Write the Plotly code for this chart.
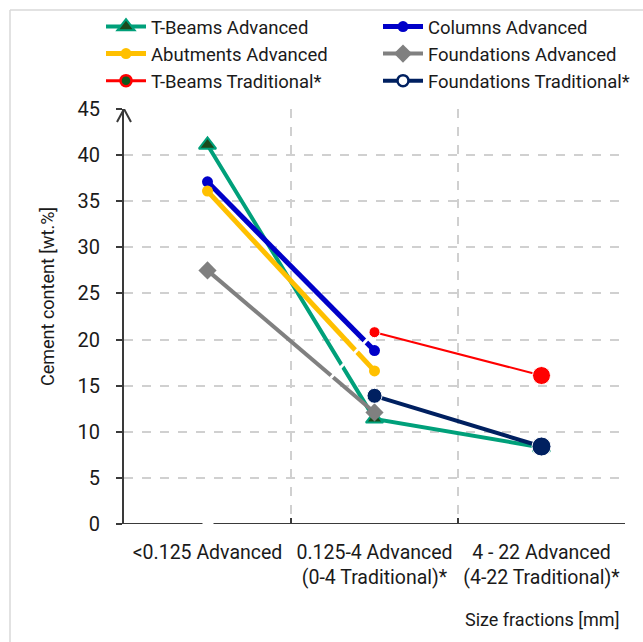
import plotly.graph_objects as go

# Size-fraction categories on the x axis
categories = [
    "<0.125 Advanced",
    "0.125-4 Advanced<br>(0-4 Traditional)*",
    "4 - 22 Advanced<br>(4-22 Traditional)*",
]

# Cement content [wt.%] per series (None = no value for that fraction)
tbeams_adv = [41.1, 11.4, 8.3]
columns_adv = [37.1, 18.8, None]
abutments_adv = [36.1, 16.6, None]
foundations_adv = [27.5, 12.1, None]
tbeams_trad = [None, 20.8, 16.1]
foundations_trad = [None, 13.9, 8.4]

y_ticks = [0, 5, 10, 15, 20, 25, 30, 35, 40, 45]

FONT = "Roboto"
TXT = "#1a1a1a"
AXIS = "#3a3a3a"
GRID = "#d0d0d0"


def px_x(p):
    """Figure pixel column -> paper x."""
    return (p - 124) / 501


def px_y(p):
    """Figure pixel row -> paper y."""
    return (524 - p) / 415


def present(values):
    """Keep only the fractions that have a measured value."""
    pairs = [(c, v) for c, v in zip(categories, values) if v is not None]
    return [c for c, _ in pairs], [v for _, v in pairs]


fig = go.Figure()

# Advanced series
x, y = present(tbeams_adv)
fig.add_trace(go.Scatter(
    x=x, y=y, name="T-Beams Advanced", mode="lines+markers",
    line=dict(color="#00A07A", width=4),
    marker=dict(symbol="triangle-up", size=15, color="#1C4A1C", opacity=1,
                line=dict(color="#00A07A", width=2)),
    legend="legend", legendgroup="a",
))
x, y = present(columns_adv)
fig.add_trace(go.Scatter(
    x=x, y=y, name="Columns Advanced", mode="lines+markers",
    line=dict(color="#0000C8", width=5),
    marker=dict(symbol="circle", size=11, color="#0000C8", opacity=1),
    legend="legend2", legendgroup="b",
))
x, y = present(abutments_adv)
fig.add_trace(go.Scatter(
    x=x, y=y, name="Abutments Advanced", mode="lines+markers",
    line=dict(color="#FFC000", width=5),
    marker=dict(symbol="circle", size=11, color="#FFC000", opacity=1),
    legend="legend", legendgroup="c",
))
x, y = present(foundations_adv)
fig.add_trace(go.Scatter(
    x=x, y=y, name="Foundations Advanced", mode="lines+markers",
    line=dict(color="#808080", width=4),
    marker=dict(symbol="diamond", size=14, color="#808080", opacity=1),
    legend="legend2", legendgroup="d",
))

# Traditional series (plotted points; legend entries styled separately)
x, y = present(tbeams_trad)
fig.add_trace(go.Scatter(
    x=x, y=y, name="T-Beams Traditional*", mode="lines+markers",
    line=dict(color="#FF0000", width=2),
    marker=dict(symbol="circle", size=[11, 18], color="#FF0000", opacity=1),
    showlegend=False, legendgroup="e",
))
x, y = present(foundations_trad)
fig.add_trace(go.Scatter(
    x=x, y=y, name="Foundations Traditional*", mode="lines+markers",
    line=dict(color="#002060", width=4),
    marker=dict(symbol="circle", size=[15, 19], color="#002060", opacity=1),
    showlegend=False, legendgroup="f",
))
fig.add_trace(go.Scatter(
    x=[None], y=[None], name="T-Beams Traditional*", mode="lines+markers",
    line=dict(color="#FF0000", width=3),
    marker=dict(symbol="circle", size=11, color="#0F5A1E",
                line=dict(color="#FF0000", width=2.5)),
    legend="legend", legendgroup="e",
))
fig.add_trace(go.Scatter(
    x=[None], y=[None], name="Foundations Traditional*", mode="lines+markers",
    line=dict(color="#002060", width=4),
    marker=dict(symbol="circle", size=11, color="white",
                line=dict(color="#002060", width=2.5)),
    legend="legend2", legendgroup="f",
))

shapes = [
    # white break crossing the converging lines
    dict(type="line", xref="x", yref="y", x0=0.737, y0=15.83, x1=0.972, y1=20.3,
         line=dict(color="white", width=3), layer="above"),
    # x axis line with a small break under the first category
    dict(type="line", xref="x", yref="y", x0=-0.5, y0=0, x1=-0.03, y1=0,
         line=dict(color=AXIS, width=2), layer="above"),
    dict(type="line", xref="x", yref="y", x0=0.036, y0=0, x1=2.5, y1=0,
         line=dict(color=AXIS, width=2), layer="above"),
    # open arrowhead on top of the y axis
    dict(type="path", xref="paper", yref="y", xsizemode="pixel", ysizemode="pixel",
         xanchor=0, yanchor=45, path="M -7,-13 L 0,0 L 7,-13",
         line=dict(color=AXIS, width=2), layer="above"),
    # chart frame edges
    dict(type="line", xref="paper", yref="paper",
         x0=px_x(10), x1=px_x(10), y0=px_y(10), y1=px_y(700),
         line=dict(color="#d9d9d9", width=1.5)),
    dict(type="line", xref="paper", yref="paper",
         x0=px_x(10), x1=px_x(700), y0=px_y(10), y1=px_y(10),
         line=dict(color="#d9d9d9", width=1.5)),
]

annotations = [
    dict(text="Cement content [wt.%]", xref="paper", yref="paper",
         x=px_x(47), y=px_y(297), textangle=-90, showarrow=False,
         xanchor="center", yanchor="middle", font=dict(size=18, color=TXT, family=FONT)),
    dict(text="Size fractions [mm]", xref="paper", yref="paper",
         x=px_x(621), y=px_y(619), showarrow=False,
         xanchor="right", yanchor="middle", font=dict(size=18, color=TXT, family=FONT)),
]

legend_style = dict(
    orientation="v", xanchor="left", yanchor="top", y=px_y(8),
    itemwidth=40, tracegroupgap=7, traceorder="normal",
    font=dict(size=18.5, color=TXT, family=FONT), bgcolor="rgba(0,0,0,0)",
)

fig.update_layout(
    width=643, height=642,
    margin=dict(l=124, r=18, t=109, b=118, autoexpand=False),
    paper_bgcolor="white", plot_bgcolor="white",
    font=dict(family=FONT, size=18, color=TXT),
    shapes=shapes, annotations=annotations,
    legend=dict(x=px_x(101), **legend_style),
    legend2=dict(x=px_x(378), **legend_style),
)

fig.update_xaxes(
    type="category", categoryorder="array", categoryarray=categories,
    range=[-0.5, 2.5], showline=False, zeroline=False, automargin=False,
    tickson="boundaries", ticks="inside", ticklen=6, tickwidth=2, tickcolor=AXIS,
    showgrid=True, gridcolor=GRID, griddash="dash", gridwidth=1.5,
    tickangle=0, tickfont=dict(size=19.5, color=TXT, family=FONT), ticklabelstandoff=14,
)
fig.update_yaxes(
    range=[0, 45], tickvals=y_ticks, showline=True, linecolor=AXIS, linewidth=2,
    ticks="outside", ticklen=6, tickwidth=2, tickcolor=AXIS, zeroline=False, automargin=False,
    showgrid=True, gridcolor=GRID, griddash="dash", gridwidth=1.5,
    tickfont=dict(size=20, color=TXT, family=FONT), ticklabelstandoff=12,
)

fig.write_html("out.html")
